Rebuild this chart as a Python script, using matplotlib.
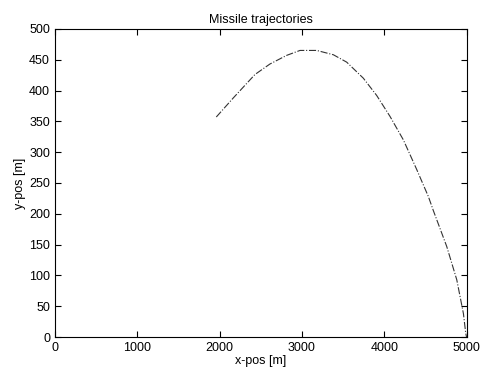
import matplotlib
matplotlib.use('Agg')
import matplotlib.pyplot as plt

# trajectory
x_pos = [1960, 2167, 2430, 2612, 2815, 2977, 3180, 3382, 3544, 3746, 3908,
         4070, 4232, 4394, 4536, 4597, 4759, 4881, 4962, 4990, 5000]
y_pos = [357, 388, 426, 443, 457, 465, 465, 458, 446, 420, 392,
         358, 320, 272, 228, 205, 147, 93, 38, 6, 0]

plt.rcParams['font.family'] = ['Liberation Sans', 'DejaVu Sans']

fig = plt.figure(figsize=(4.86, 3.70), dpi=100)
ax = fig.add_axes([0.113, 0.089, 0.847, 0.833])
ax.plot(x_pos, y_pos, linestyle='-.', color='#333333', linewidth=0.8)
ax.set_xlim(0, 5000)
ax.set_ylim(0, 500)
ax.set_xticks(range(0, 5001, 1000))
ax.set_yticks(range(0, 501, 50))
ax.tick_params(direction='in', top=True, right=True, labelsize=9, length=4)
ax.set_title('Missile trajectories', fontsize=9, pad=4)
ax.set_xlabel('x-pos [m]', fontsize=9, labelpad=1)
ax.set_ylabel('y-pos [m]', fontsize=9, labelpad=2)
fig.savefig('out.png', dpi=100)
